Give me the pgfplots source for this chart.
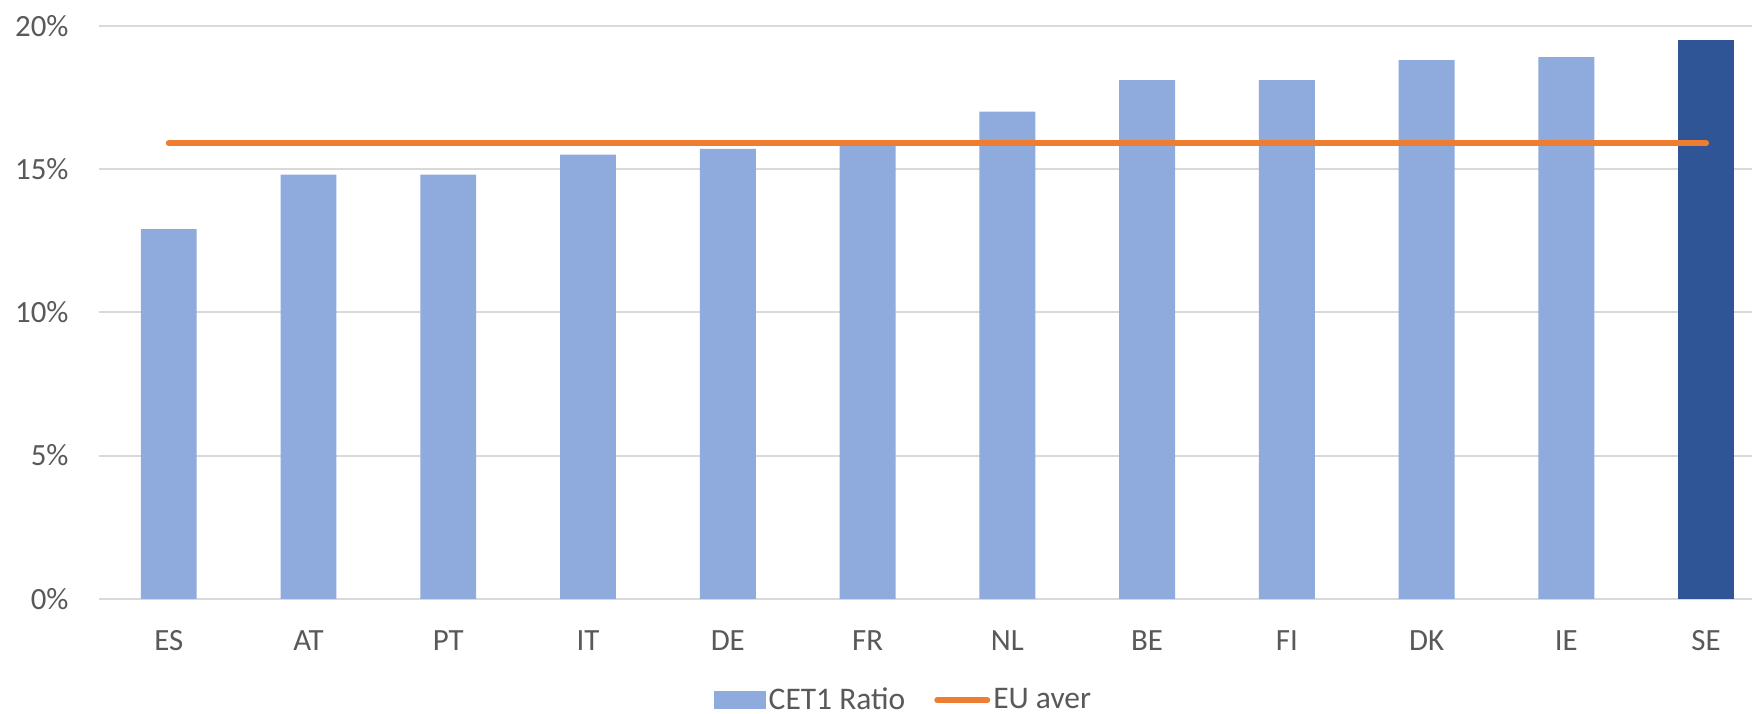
\documentclass[border=0pt]{standalone}
\usepackage{fontspec}
\setmainfont{Carlito}
\usepackage{pgfplots}
\pgfplotsset{compat=1.18}
\definecolor{barblue}{HTML}{8FAADC}
\definecolor{darkblue}{HTML}{2F5597}
\definecolor{euorange}{HTML}{ED7D31}
\definecolor{gridgray}{HTML}{D9D9D9}
\definecolor{txtgray}{HTML}{595959}
\begin{document}
\begin{tikzpicture}
\begin{axis}[
  scale only axis,
  width=838.8bp, height=286.65bp,
  xmin=-0.5, xmax=11.5,
  ymin=0, ymax=20,
  xtick={0,1,2,3,4,5,6,7,8,9,10,11},
  xticklabels={ES,AT,PT,IT,DE,FR,NL,BE,FI,DK,IE,SE},
  ytick={0,5,10,15,20},
  yticklabels={0\%,5\%,10\%,15\%,20\%},
  ymajorgrids,
  grid style={gridgray, line width=1bp},
  axis line style={draw=none},
  tick style={draw=none},
  xticklabel style={font=\fontsize{15.5}{17}\selectfont, text=txtgray, anchor=base, yshift=-25.85bp},
  yticklabel style={font=\fontsize{15.5}{17}\selectfont, text=txtgray, anchor=east, inner sep=0pt, xshift=-15bp},
  clip=false,
  legend style={draw=none, at={(0.480,-0.177)}, anchor=center, legend columns=2,
    font=\fontsize{15.8}{17}\selectfont, text=txtgray, inner xsep=0pt,
    nodes={inner xsep=1.5bp}},
  legend cell align=left,
]
\addplot[ybar, bar width=0.40, fill=barblue, draw=none,
  legend image code/.code={\fill[barblue] (0bp,-4.5bp) rectangle (26bp,4.5bp);}]
  coordinates {(0,12.9) (1,14.8) (2,14.8) (3,15.5) (4,15.7) (5,15.8) (6,17.0) (7,18.1) (8,18.1) (9,18.8) (10,18.9)};
\addlegendentry{\mbox{CET1 Ratio\hspace{13bp}}}
\addplot[ybar, bar width=0.40, fill=darkblue, draw=none, forget plot]
  coordinates {(11,19.5)};
\addplot[euorange, line width=3bp, line cap=round,
  legend image code/.code={\draw[euorange, line width=3bp, line cap=round] (1.5bp,0bp) -- (26.5bp,0bp);}]
  coordinates {(0,15.9) (11,15.9)};
\addlegendentry{EU aver}
\end{axis}
\pgfresetboundingbox
\path[use as bounding box] ([xshift=-49.45bp,yshift=-57.5bp]current axis.south west) rectangle ([xshift=-12bp,yshift=12.85bp]current axis.north east);
\end{tikzpicture}
\end{document}
